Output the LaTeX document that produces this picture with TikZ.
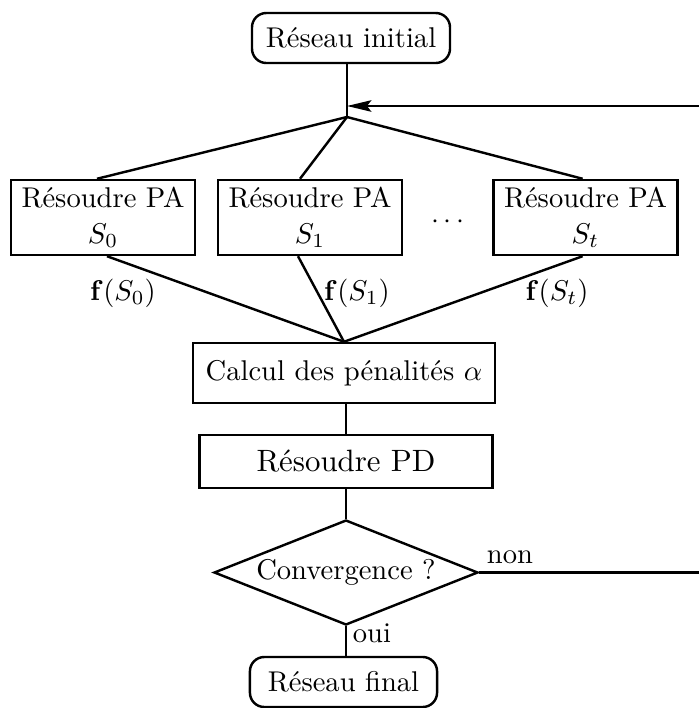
\documentclass[tikz,border=0pt]{standalone}
\usetikzlibrary{shapes.geometric,arrows.meta}
\begin{document}
\begin{tikzpicture}[x=0.35pt,y=-0.35pt,line width=0.85pt,
  rbox/.style={draw,rounded corners=5pt,minimum height=17.5pt,inner sep=0pt},
  pabox/.style={draw,minimum width=64.5pt,minimum height=26.25pt,align=center,inner sep=0pt,font=\linespread{1.05}\selectfont},
  wbox/.style={draw,inner sep=0pt},
  lbl/.style={inner sep=1pt},
  tip/.style={-{Stealth[length=8.5pt,width=4pt,inset=1.5pt]}}]
\useasboundingbox (0,0) rectangle (699,708);
% start
\node[rbox,minimum width=69.3pt] (init) at (351,38) {Réseau initial};
\coordinate (J) at (347,117);
\coordinate (A) at (347,106);
\coordinate (R1) at (699,106);
\draw (init.south -| J) -- (J);
\draw[tip] (R1) -- (A);
% parallel subproblems
\node[pabox] (b0) at (103,217.5) {Résoudre PA\\ $S_0$};
\node[pabox] (b1) at (310,217.5) {Résoudre PA\\ $S_1$};
\node[pabox] (b2) at (585.5,217.5) {Résoudre PA\\ $S_t$};
\node[lbl] (dots) at (448,222) {$\cdots$};
\draw (J) -- ([xshift=-2.1pt]b0.north);
\draw (J) -- ([xshift=-3.5pt]b1.north);
\draw (J) -- ([xshift=-1pt]b2.north);
% penalties
\node[wbox,minimum width=105.7pt,minimum height=21pt] (calc) at (344,373) {Calcul des pénalités $\alpha$};
\draw ([xshift=1.4pt]b0.south) -- (calc.north);
\draw ([xshift=-4.2pt]b1.south) -- (calc.north);
\draw ([xshift=-1pt]b2.south) -- (calc.north);
\node[lbl] (f0) at (123,293) {$\mathbf{f}(S_0)$};
\node[lbl] (f1) at (357,293) {$\mathbf{f}(S_1)$};
\node[lbl] (ft) at (557,293) {$\mathbf{f}(S_t)$};
% dual problem
\node[wbox,minimum width=102.5pt,minimum height=18.5pt,font=\fontsize{10.8pt}{13pt}\selectfont] (pd) at (346,461.5) {Résoudre PD};
\draw (calc.south -| pd.north) -- (pd.north);
% convergence test
\node[draw,diamond,aspect=2.5,inner sep=0pt,minimum width=92.4pt,minimum height=36.75pt] (conv) at (346,572.5) {Convergence ?};
\draw (pd.south -| conv.north) -- (conv.north);
\coordinate (R2) at (699,572.5);
\draw (conv.east) -- (R2);
\node[lbl] (non) at (510,557) {non};
% end
\node[rbox,minimum width=65.5pt] (final) at (343.5,682) {Réseau final};
\draw (conv.south) -- (conv.south |- final.north);
\node[lbl] (oui) at (372,633) {oui};
\end{tikzpicture}
\end{document}
